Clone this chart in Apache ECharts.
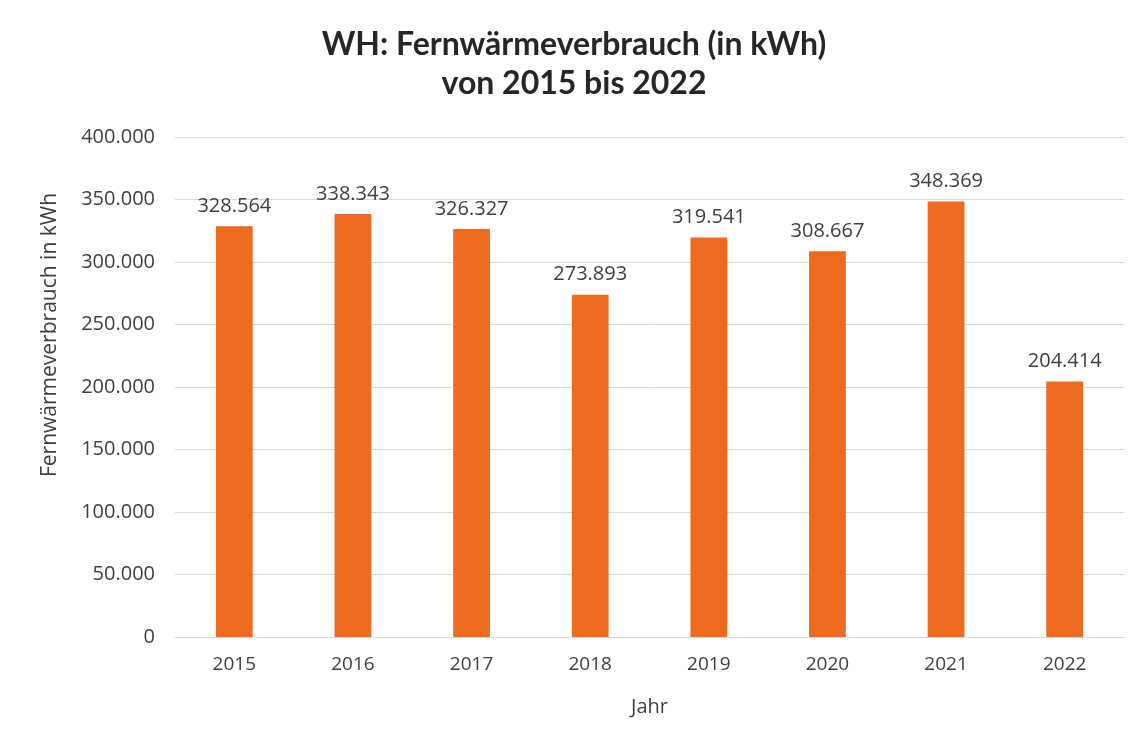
<!DOCTYPE html>
<html>
<head>
<meta charset="utf-8">
<script src="https://cdn.jsdelivr.net/npm/echarts@6/dist/echarts.min.js"></script>
<style>
  html, body { margin: 0; padding: 0; background: #fff; }
  #chart { width: 1148px; height: 748px; }
</style>
</head>
<body>
<div id="chart"></div>
<script>
const years = ['2015', '2016', '2017', '2018', '2019', '2020', '2021', '2022'];
const verbrauch = [328564, 338343, 326327, 273893, 319541, 308667, 348369, 204414];

// deutsche Tausendertrennung
const fmt = v => String(v).replace(/\B(?=(\d{3})+(?!\d))/g, '.');

const chart = echarts.init(document.getElementById('chart'));

chart.setOption({
  animation: false,
  textStyle: { fontFamily: 'Open Sans' },
  title: {
    text: 'WH: Fernwärmeverbrauch (in kWh)\nvon 2015 bis 2022',
    left: 'center',
    top: 20,
    textStyle: {
      fontFamily: 'Lato',
      fontWeight: 'bold',
      fontSize: 32,
      lineHeight: 39,
      color: '#262626'
    }
  },
  grid: { left: 175, right: 24, top: 137, bottom: 111, containLabel: false },
  xAxis: {
    type: 'category',
    data: years,
    name: 'Jahr',
    nameLocation: 'middle',
    nameGap: 60,
    nameTextStyle: { fontSize: 20, color: '#404040' },
    axisLine: { lineStyle: { color: '#d9d9d9' } },
    axisTick: { show: false },
    axisLabel: { fontSize: 19, color: '#404040', margin: 18 }
  },
  yAxis: {
    type: 'value',
    min: 0,
    max: 400000,
    interval: 50000,
    axisLine: { show: false },
    axisTick: { show: false },
    splitLine: { lineStyle: { color: '#d9d9d9' } },
    axisLabel: { fontSize: 20, color: '#404040', margin: 20, formatter: fmt }
  },
  graphic: [{
    type: 'text',
    x: 50,
    y: 335,
    rotation: Math.PI / 2,
    style: {
      text: 'Fernwärmeverbrauch in kWh',
      font: '21px "Open Sans"',
      fill: '#404040',
      x: 0,
      y: 0,
      textAlign: 'center',
      textVerticalAlign: 'middle'
    }
  }],
  series: [{
    type: 'bar',
    data: verbrauch,
    barWidth: '31%',
    itemStyle: { color: '#ED6A1F' },
    label: {
      show: true,
      position: 'top',
      distance: 10,
      fontSize: 20,
      color: '#404040',
      formatter: p => fmt(p.value)
    }
  }]
});
</script>
</body>
</html>
